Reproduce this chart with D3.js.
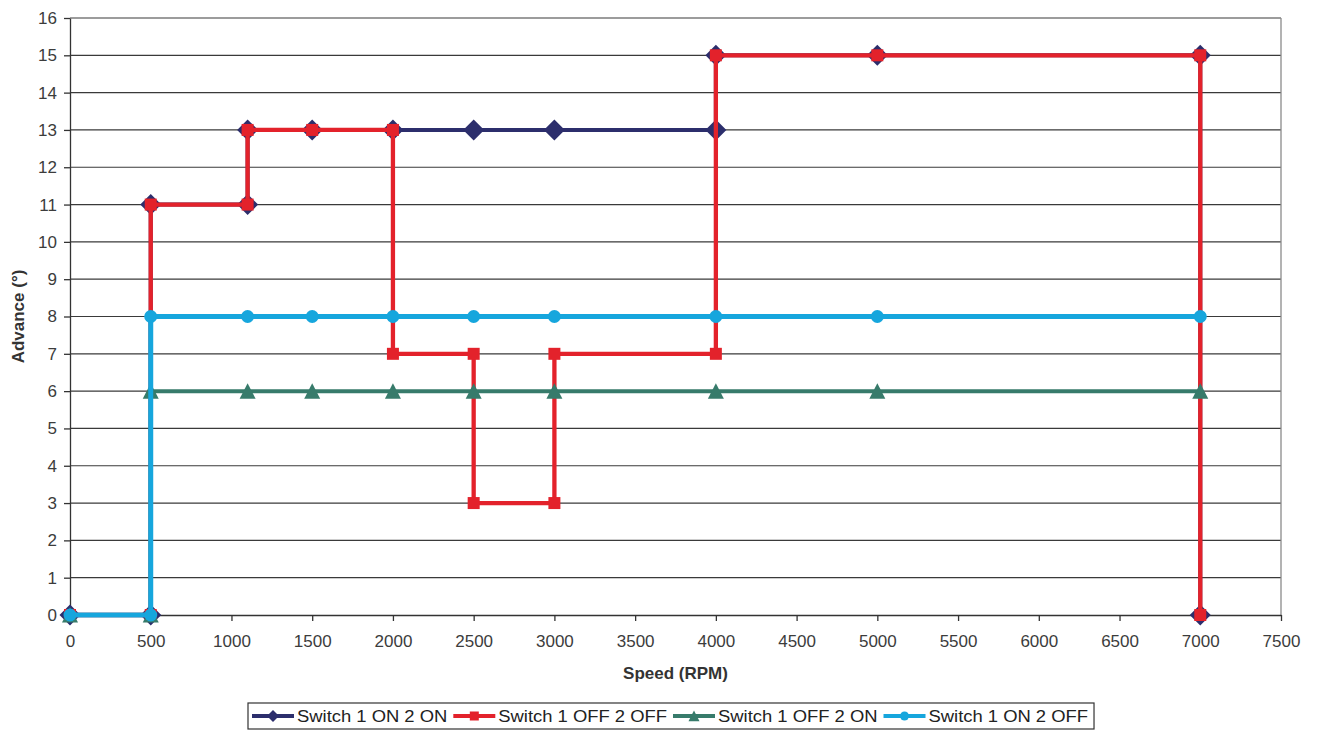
<!DOCTYPE html>
<html>
<head>
<meta charset="utf-8">
<script src="https://cdn.jsdelivr.net/npm/d3@7"></script>
<style>
  body { margin: 0; background: #fff; }
  text { font-family: "Liberation Sans", Arial, sans-serif; }
</style>
</head>
<body>
<svg id="chart" width="1319" height="731"></svg>
<script>
// series data
var onOnX   = [0, 500, 500, 1100, 1100, 1500, 2000, 2500, 3000, 4000, 4000, 5000, 7000, 7000];
var onOnY   = [0, 0, 11, 11, 13, 13, 13, 13, 13, 13, 15, 15, 15, 0];
var offOffX = [0, 500, 500, 1100, 1100, 1500, 2000, 2000, 2500, 2500, 3000, 3000, 4000, 4000, 5000, 7000, 7000];
var offOffY = [0, 0, 11, 11, 13, 13, 13, 7, 7, 3, 3, 7, 7, 15, 15, 15, 0];
var offOnX  = [0, 500, 500, 1100, 1500, 2000, 2500, 3000, 4000, 5000, 7000];
var offOnY  = [0, 0, 6, 6, 6, 6, 6, 6, 6, 6, 6];
var onOffX  = [0, 500, 500, 1100, 1500, 2000, 2500, 3000, 4000, 5000, 7000];
var onOffY  = [0, 0, 8, 8, 8, 8, 8, 8, 8, 8, 8];

var seriesNames = ["Switch 1 ON 2 ON", "Switch 1 OFF 2 OFF", "Switch 1 OFF 2 ON", "Switch 1 ON 2 OFF"];
var xTicks = d3.range(0, 7501, 500);
var yTicks = d3.range(0, 17, 1);

var svg = d3.select("#chart");
var pLeft = 70, pRight = 1281, pTop = 18, pBottom = 615;

var x = d3.scaleLinear().domain([0, 7500]).range([pLeft, pRight]);
var y = d3.scaleLinear().domain([0, 16]).range([pBottom, pTop]);

// marker shapes
function diamond(r) {
  return "M0," + (-r) + "L" + r + ",0L0," + r + "L" + (-r) + ",0Z";
}
function square(s) {
  return "M" + (-s) + "," + (-s) + "h" + 2 * s + "v" + 2 * s + "h" + (-2 * s) + "Z";
}
function triangle(s) {
  return "M0," + (-s) + "L" + s + "," + (s * 0.95) + "L" + (-s) + "," + (s * 0.95) + "Z";
}
function circle(r) {
  return "M" + r + ",0A" + r + "," + r + " 0 1,1 " + (-r) + ",0A" + r + "," + r + " 0 1,1 " + r + ",0Z";
}

var series = [
  { name: seriesNames[0], xs: onOnX, ys: onOnY, color: "#2c2e6c", width: 4, shape: diamond, size: 10.5, lsize: 6 },
  { name: seriesNames[1], xs: offOffX, ys: offOffY, color: "#e3222b", width: 4.3, shape: square, size: 6, lsize: 4.5 },
  { name: seriesNames[2], xs: offOnX, ys: offOnY, color: "#377b6b", width: 4, shape: triangle, size: 8, lsize: 5.5 },
  { name: seriesNames[3], xs: onOffX, ys: onOffY, color: "#16a6dd", width: 5, shape: circle, size: 6.5, lsize: 4.5 }
];

// gridlines
svg.append("g")
  .selectAll("line")
  .data(yTicks.filter(function(d) { return d > 0; }))
  .enter().append("line")
  .attr("x1", pLeft).attr("x2", pRight)
  .attr("y1", function(d) { return y(d); })
  .attr("y2", function(d) { return y(d); })
  .attr("stroke", "#3a3a3a")
  .attr("stroke-width", 1.2);

// right border of plot area
svg.append("line")
  .attr("x1", pRight).attr("x2", pRight)
  .attr("y1", pTop).attr("y2", pBottom)
  .attr("stroke", "#8a8a8a").attr("stroke-width", 1.3);

// axes
var xAxis = svg.append("g")
  .attr("transform", "translate(0," + pBottom + ")")
  .call(d3.axisBottom(x).tickValues(xTicks).tickFormat(d3.format("d")).tickSize(6).tickSizeOuter(0).tickPadding(14));
var yAxis = svg.append("g")
  .attr("transform", "translate(" + pLeft + ",0)")
  .call(d3.axisLeft(y).tickValues(yTicks).tickSize(6).tickSizeOuter(0).tickPadding(7));

[xAxis, yAxis].forEach(function(a) {
  a.selectAll("path.domain").attr("stroke", "#333").attr("stroke-width", 1.3);
  a.selectAll(".tick line").attr("stroke", "#333").attr("stroke-width", 1.3);
  a.selectAll(".tick text")
    .attr("fill", "#3c3c3c")
    .style("font-size", "17px")
    .style("font-family", "'Liberation Sans', Arial, sans-serif");
});

// axis titles
svg.append("text")
  .attr("x", (pLeft + pRight) / 2).attr("y", 679)
  .attr("text-anchor", "middle")
  .attr("fill", "#333")
  .style("font-size", "17px").style("font-weight", "bold")
  .text("Speed (RPM)");

svg.append("text")
  .attr("transform", "translate(24," + ((pTop + pBottom) / 2) + ") rotate(-90)")
  .attr("text-anchor", "middle")
  .attr("fill", "#333")
  .style("font-size", "17px").style("font-weight", "bold")
  .text("Advance (\u00b0)");

// lines and markers
var line = d3.line()
  .x(function(d) { return x(d[0]); })
  .y(function(d) { return y(d[1]); });

series.forEach(function(s) {
  var pts = s.xs.map(function(v, i) { return [v, s.ys[i]]; });
  var g = svg.append("g");
  g.append("path")
    .datum(pts)
    .attr("d", line)
    .attr("fill", "none")
    .attr("stroke", s.color)
    .attr("stroke-width", s.width)
    .attr("stroke-linejoin", "miter");
  g.selectAll("path.mark")
    .data(pts)
    .enter().append("path")
    .attr("class", "mark")
    .attr("transform", function(d) { return "translate(" + x(d[0]) + "," + y(d[1]) + ")"; })
    .attr("d", s.shape(s.size))
    .attr("fill", s.color);
});

// legend
var legend = svg.append("g");
var legendBox = legend.append("rect")
  .attr("y", 703).attr("height", 26)
  .attr("fill", "#fff").attr("stroke", "#333").attr("stroke-width", 1.2);

var cursor = 252;
var stretch = 1.15;
series.forEach(function(s) {
  var cy = 716;
  legend.append("line")
    .attr("x1", cursor).attr("x2", cursor + 42)
    .attr("y1", cy).attr("y2", cy)
    .attr("stroke", s.color).attr("stroke-width", 4);
  legend.append("path")
    .attr("transform", "translate(" + (cursor + 21) + "," + cy + ")")
    .attr("d", s.shape(s.lsize))
    .attr("fill", s.color);
  var t = legend.append("text")
    .attr("x", cursor + 45).attr("y", cy + 6)
    .attr("fill", "#222")
    .style("font-size", "16px")
    .text(s.name);
  var w = t.node().getComputedTextLength() * stretch;
  t.attr("textLength", w).attr("lengthAdjust", "spacingAndGlyphs");
  cursor += 45 + w + 6;
});
legendBox.attr("x", 248).attr("width", cursor - 248);
</script>
</body>
</html>
